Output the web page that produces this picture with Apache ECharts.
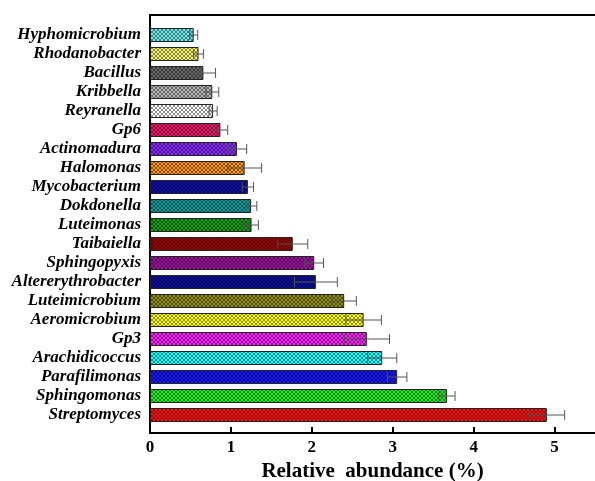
<!DOCTYPE html>
<html><head><meta charset="utf-8">
<script src="https://cdn.jsdelivr.net/npm/echarts@6/dist/echarts.min.js"></script>
<style>html,body{margin:0;padding:0;background:#fff}#c{width:595px;height:481px}</style>
</head><body><div id="c"></div>
<script>
const categories = ['Hyphomicrobium','Rhodanobacter','Bacillus','Kribbella','Reyranella','Gp6','Actinomadura','Halomonas','Mycobacterium','Dokdonella','Luteimonas','Taibaiella','Sphingopyxis','Altererythrobacter','Luteimicrobium','Aeromicrobium','Gp3','Arachidicoccus','Parafilimonas','Sphingomonas','Streptomyces'];
const values = [0.54,0.60,0.66,0.77,0.78,0.87,1.075,1.17,1.21,1.25,1.255,1.765,2.03,2.05,2.40,2.64,2.68,2.87,3.055,3.67,4.905];
const errors = [0.05,0.06,0.15,0.08,0.05,0.09,0.12,0.21,0.07,0.07,0.085,0.185,0.115,0.265,0.15,0.22,0.28,0.18,0.12,0.10,0.22];
const xTicks = [0,1,2,3,4,5];
const barColors = ['#70eaea','#f4f474','#6a6a6a','#b8b8b8','#ffffff','#f0186a','#8a2cff','#ff9410','#1010a8','#109c9c','#10a010','#a00000','#a010a0','#1010a0','#909010','#ffff10','#ff20ff','#20ffff','#1818ff','#20f020','#ff1010'];

function makePattern(col){
  const cv = document.createElement('canvas');
  cv.width = 4; cv.height = 4;
  const ctx = cv.getContext('2d');
  ctx.fillStyle = col; ctx.fillRect(0,0,4,4);
  ctx.fillStyle = 'rgba(0,0,0,0.45)';
  const pts = [[0,0],[1,1],[2,2],[3,3],[3,0],[2,1],[1,2],[0,3]];
  pts.forEach(p => ctx.fillRect(p[0],p[1],1,1));
  return {image: cv, repeat: 'repeat'};
}

const chart = echarts.init(document.getElementById('c'), null, {renderer:'canvas'});
const serif = 'Liberation Serif, Times New Roman, serif';
const option = {
  animation: false,
  backgroundColor: '#fff',
  grid: [
    {left: 150, right: 0, top: 15, bottom: 48, containLabel:false, outerBoundsMode:'none'},
    {left: 150, right: 0, top: 25.5, bottom: 56.5, containLabel:false, outerBoundsMode:'none'}
  ],
  xAxis: [
    {type:'value', gridIndex:0, min:0, max:5.5, interval:1, position:'bottom',
     axisLine:{show:true, lineStyle:{color:'#000', width:2}},
     axisTick:{show:true, inside:true, length:6, customValues:xTicks, lineStyle:{color:'#000', width:2}},
     axisLabel:{show:true, color:'#000', fontFamily:serif, fontWeight:'bold', fontSize:17, margin:6,
       customValues:xTicks, formatter: v => String(v)},
     splitLine:{show:false},
     name:'Relative  abundance (%)', nameLocation:'middle', nameGap:28,
     nameTextStyle:{color:'#000', fontFamily:serif, fontWeight:'bold', fontSize:21}},
    {type:'value', gridIndex:0, min:0, max:5.5, position:'top',
     axisLine:{show:true, onZero:false, lineStyle:{color:'#000', width:2}},
     axisTick:{show:false}, axisLabel:{show:false}, splitLine:{show:false}},
    {type:'value', gridIndex:1, min:0, max:5.5, show:false, splitLine:{show:false}}
  ],
  yAxis: [
    {type:'value', gridIndex:0, min:0, max:1,
     axisLine:{show:true, lineStyle:{color:'#000', width:2}},
     axisTick:{show:false}, axisLabel:{show:false}, splitLine:{show:false}},
    {type:'category', gridIndex:1, data:categories, inverse:true,
     axisLine:{show:false}, axisTick:{show:false},
     axisLabel:{interval:0, color:'#000', fontFamily:serif, fontStyle:'italic', fontWeight:'bold', fontSize:17, margin:9}}
  ],
  series: [
    {type:'bar', xAxisIndex:2, yAxisIndex:1, barWidth:14,
     data: values.map((v,i)=>({value:v, itemStyle:{color: makePattern(barColors[i]), borderColor:'#222', borderWidth:1}}))},
    {type:'custom', xAxisIndex:2, yAxisIndex:1, z:5,
     data: values.map((v,i)=>[v,i,errors[i]]),
     renderItem: function(params, api){
       const v = api.value(0), idx = api.value(1), e = api.value(2);
       const lo = api.coord([v-e, idx]);
       const hi = api.coord([v+e, idx]);
       const h = api.size([0,1])[1]*0.26;
       const st = {stroke:'#555', lineWidth:1, fill:null};
       return {type:'group', children:[
         {type:'line', shape:{x1:lo[0], y1:lo[1], x2:hi[0], y2:hi[1]}, style:st},
         {type:'line', shape:{x1:hi[0], y1:hi[1]-h, x2:hi[0], y2:hi[1]+h}, style:st},
         {type:'line', shape:{x1:lo[0], y1:lo[1]-h, x2:lo[0], y2:lo[1]+h}, style:st}
       ]};
     }}
  ]
};
chart.setOption(option);
</script></body></html>
